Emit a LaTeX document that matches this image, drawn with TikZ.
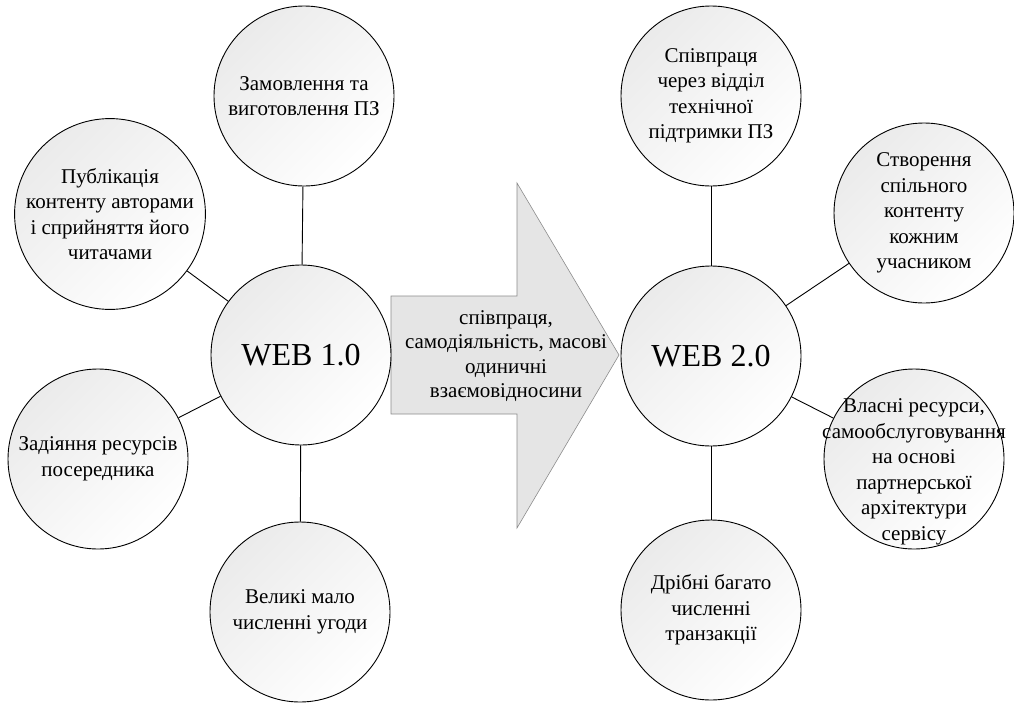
\documentclass[tikz,border=0pt]{standalone}
\usepackage{fontspec}
\setmainfont{Liberation Serif}
\tikzset{
  bubble/.style={circle,draw,line width=0.9pt,minimum size=180pt,inner sep=0pt,align=center,
    top color=black!8,bottom color=white,shading angle=45,
    font=\fontsize{21}{25.5}\selectfont},
  hub/.style={bubble,font=\fontsize{32}{36}\selectfont},
  link/.style={line width=0.9pt}
}
\begin{document}
\begin{tikzpicture}[x=1pt,y=-1pt]
        \useasboundingbox (0,0) rectangle (1014,704);
        % arrow in the middle
        \draw[black!45,fill=black!10,line width=0.6pt] (391,296)--(517,296)--(517,183)--(619,355)--(517,528)--(517,414)--(391,414)--cycle;
        \node[align=center,font=\fontsize{21}{24.5}\selectfont] (shift) at (506,356) {співпраця,\\самодіяльність, масові\\одиничні\\взаємовідносини};
        % web 1.0
        \node[hub] (w1) at (301,355) {WEB 1.0};
        \node[bubble] (a1) at (304,96) {Замовлення та\\виготовлення ПЗ};
        \node[bubble] (a2) at (110,214) {Публікація\\контенту авторами\\і сприйняття його\\читачами};
        \node[bubble] (a3) at (98,459) {Задіяння ресурсів\\посередника};
        \node[bubble] (a4) at (300,612) {Великі мало\\численні угоди};
        \foreach \n in {a1,a2,a3,a4} \draw[link] (w1)--(\n);
        % web 2.0
        \node[hub] (w2) at (711,356) {WEB 2.0};
        \node[bubble] (b1) at (711,96) {Співпраця\\через відділ\\технічної\\підтримки ПЗ};
        \node[bubble] (b2) at (924,213) {Створення\\спільного\\контенту\\кожним\\учасником};
        \node[bubble,label={[align=center,font=\fontsize{21}{25.5}\selectfont,yshift=-13pt]center:{Власні ресурси,\\самообслуговування\\на основі\\партнерської\\архітектури\\сервісу}}] (b3) at (914,459) {};
        \node[bubble] (b4) at (711,610) {Дрібні багато\\численні\\транзакції};
        \foreach \n in {b1,b2,b3,b4} \draw[link] (w2)--(\n);
    \end{tikzpicture}
\end{document}
